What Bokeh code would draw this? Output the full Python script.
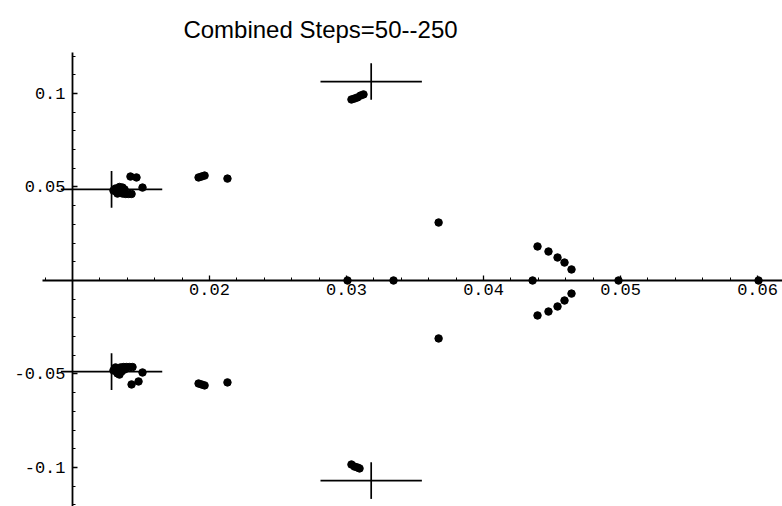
from bokeh.plotting import figure
from bokeh.models import Range1d, LinearAxis, FixedTicker, Label, ColumnDataSource
from bokeh.embed import file_html
from bokeh.resources import INLINE
import numpy as np

# ---- data ----
left_upper_x = [0.01299, 0.01314, 0.01321, 0.01328, 0.01343, 0.01350, 0.01365, 0.01365, 0.01380,
                0.01387, 0.01409, 0.01431, 0.01423, 0.01467, 0.01511]
left_upper_y = [0.0481, 0.0492, 0.0476, 0.0465, 0.0500, 0.0481, 0.0497, 0.0465, 0.0487,
                0.0463, 0.0463, 0.0463, 0.0556, 0.0551, 0.0497]
left_lower_x = [0.01299, 0.01314, 0.01321, 0.01328, 0.01343, 0.01350, 0.01358, 0.01372, 0.01380,
                0.01394, 0.01416, 0.01438, 0.01431, 0.01482, 0.01511]
left_lower_y = [-0.0481, -0.0465, -0.0481, -0.0497, -0.0503, -0.0465, -0.0487, -0.0463, -0.0476,
                -0.0463, -0.0463, -0.0463, -0.0556, -0.0540, -0.0492]
mid_x = [0.01920, 0.01942, 0.01964, 0.02131, 0.01920, 0.01942, 0.01964, 0.02131]
mid_y = [0.0551, 0.0556, 0.0561, 0.0545, -0.0551, -0.0556, -0.0561, -0.0545]
top_x = [0.03036, 0.03058, 0.03080, 0.03102, 0.03124]
top_y = [0.0968, 0.0973, 0.0979, 0.0989, 0.0995]
bottom_x = [0.03036, 0.03058, 0.03080, 0.03095]
bottom_y = [-0.0984, -0.0995, -0.1000, -0.1005]
right_x = [0.03672, 0.03672,
           0.04394, 0.04474, 0.04540, 0.04591, 0.04642,
           0.04642, 0.04591, 0.04540, 0.04474, 0.04394]
right_y = [0.0310, -0.0310,
           0.0182, 0.0155, 0.0123, 0.0096, 0.0059,
           -0.0070, -0.0107, -0.0139, -0.0166, -0.0187]
real_x = [0.03007, 0.03343, 0.04358, 0.04985, 0.06007]
real_y = [0.0, 0.0, 0.0, 0.0, 0.0]

cross_x = [0.01285, 0.01285, 0.0318, 0.0318]
cross_y = [0.0487, -0.0487, 0.1064, -0.1070]

x_tick_values = [0.02, 0.03, 0.04, 0.05, 0.06]
x_tick_labels = ["0.02", "0.03", "0.04", "0.05", "0.06"]
y_tick_values = [-0.1, -0.05, 0.05, 0.1]
y_tick_labels = ["-0.1", "-0.05", "0.05", "0.1"]

title_text = "Combined Steps=50--250"

# ---- figure ----
W, H = 782, 506
p = figure(width=W, height=H, output_backend="svg", toolbar_location=None,
           x_range=Range1d(0.004745, 0.06182), y_range=Range1d(-0.12086, 0.14973),
           x_axis_location=None, y_axis_location=None, min_border=0)
p.outline_line_color = None
p.xgrid.visible = False
p.ygrid.visible = False
p.background_fill_color = "white"
p.border_fill_color = "white"

tick_font = "Liberation Mono"

xaxis = LinearAxis(fixed_location=0, bounds=(0.0078, 0.0618),
                   ticker=FixedTicker(ticks=x_tick_values,
                                      minor_ticks=list(np.round(np.arange(0.008, 0.0621, 0.002), 4))),
                   major_label_overrides={v: l for v, l in zip(x_tick_values, x_tick_labels)})
yaxis = LinearAxis(fixed_location=0.01, bounds=(-0.13, 0.1219),
                   ticker=FixedTicker(ticks=y_tick_values,
                                      minor_ticks=list(np.round(np.arange(-0.12, 0.1201, 0.01), 3))),
                   major_label_overrides={v: l for v, l in zip(y_tick_values, y_tick_labels)})
for ax in (xaxis, yaxis):
    ax.axis_line_width = 1.8
    ax.axis_line_color = "black"
    ax.major_tick_in = 5
    ax.major_tick_out = 0
    ax.minor_tick_in = 3
    ax.minor_tick_out = 0
    ax.major_tick_line_width = 1.3
    ax.minor_tick_line_width = 1
    ax.major_tick_line_color = "black"
    ax.minor_tick_line_color = "black"
    ax.major_label_text_font = tick_font
    ax.major_label_text_font_size = "17px"
    ax.major_label_text_color = "black"
xaxis.major_label_standoff = 4
yaxis.major_label_standoff = 7
p.add_layout(xaxis, "below")
p.add_layout(yaxis, "left")

# crosshairs
hx, hy = 0.0037, 0.0098
cs = ColumnDataSource(dict(x=cross_x, y=cross_y,
                           x0=[v - hx for v in cross_x], x1=[v + hx for v in cross_x],
                           y0=[v - hy for v in cross_y], y1=[v + hy for v in cross_y]))
p.segment(x0="x0", y0="y", x1="x1", y1="y", source=cs, line_color="black", line_width=1.7)
p.segment(x0="x", y0="y0", x1="x", y1="y1", source=cs, line_color="black", line_width=1.7)

# points
for xs, ys in [(left_upper_x, left_upper_y), (left_lower_x, left_lower_y), (mid_x, mid_y),
               (top_x, top_y), (bottom_x, bottom_y), (right_x, right_y), (real_x, real_y)]:
    p.scatter(xs, ys, size=7.5, color="black", line_color="black")

title = Label(x=320, y=H - 29, x_units="screen", y_units="screen", text=title_text,
              text_align="center", text_baseline="alphabetic",
              text_font="Liberation Sans", text_font_size="24px",
              text_color="black")
p.add_layout(title)

open("out.html", "w").write(file_html(p, INLINE))
